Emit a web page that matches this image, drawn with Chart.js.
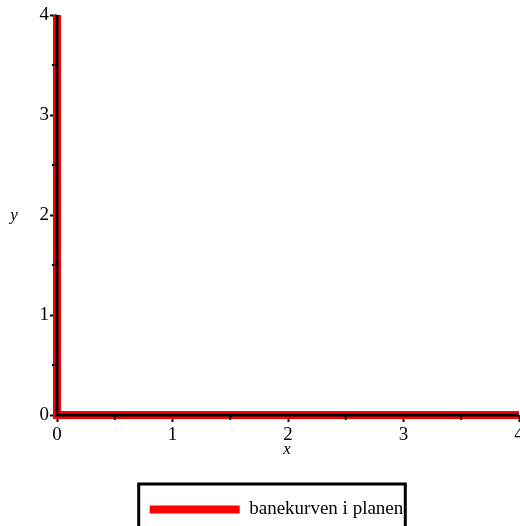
<!DOCTYPE html>
<html>
<head>
<meta charset="utf-8">
<script src="https://cdn.jsdelivr.net/npm/chart.js@4"></script>
<style>
html, body { margin: 0; padding: 0; background: #fff; }
</style>
</head>
<body>
<canvas id="plot" width="520" height="526"></canvas>
<script>
"use strict";

// banekurven: (0,4) -> (0,0) -> (4,0)
const xValues = [0, 0, 4];
const yValues = [4, 0, 0];
const minorTicks = [0.5, 1.5, 2.5, 3.5];
const seriesLabel = "banekurven i planen";
const xTitle = "x";
const yTitle = "y";

const serif = "'Liberation Serif', 'Times New Roman', serif";

/**
 * plugin som ritar axlar, små ticks, axeltitlar och ram runt legenden
 */
const extras = {
    id: 'extras',
    afterLayout(chart) {
        // flytta legenden lite åt höger och nedåt som i originalet
        chart.legend.left += 17;
        chart.legend.right += 17;
        chart.legend.top += 3;
        chart.legend.bottom += 3;
    },
    afterDraw(chart) {
        const ctx = chart.ctx;
        const xs = chart.scales.x;
        const ys = chart.scales.y;
        const x0 = xs.getPixelForValue(0);
        const y0 = ys.getPixelForValue(0);
        ctx.save();
        ctx.strokeStyle = '#000';
        ctx.lineWidth = 3;
        ctx.beginPath();
        ctx.moveTo(x0, ys.getPixelForValue(4));
        ctx.lineTo(x0, y0);
        ctx.lineTo(xs.getPixelForValue(4), y0);
        ctx.stroke();

        ctx.lineWidth = 2;
        minorTicks.forEach(v => {
            const px = xs.getPixelForValue(v);
            ctx.beginPath();
            ctx.moveTo(px, y0);
            ctx.lineTo(px, y0 + 5);
            ctx.stroke();
            const py = ys.getPixelForValue(v);
            ctx.beginPath();
            ctx.moveTo(x0, py);
            ctx.lineTo(x0 - 5, py);
            ctx.stroke();
        });

        ctx.fillStyle = '#000';
        ctx.font = "italic 17px " + serif;
        ctx.textAlign = 'center';
        ctx.textBaseline = 'middle';
        ctx.fillText(xTitle, xs.getPixelForValue(2) - 1, 450);
        ctx.fillText(yTitle, 14, ys.getPixelForValue(2) + 1);

        const lg = chart.legend;
        const hb = lg.legendHitBoxes[0];
        ctx.lineWidth = 3;
        ctx.strokeRect(hb.left - 11, 484, hb.width + 13, 60);
        ctx.restore();
    }
};

const tickFont = { family: serif, size: 19 };

new Chart(document.getElementById('plot'), {
    type: 'scatter',
    data: {
        datasets: [{
            label: seriesLabel,
            data: xValues.map((x, i) => ({ x: x, y: yValues[i] })),
            showLine: true,
            borderColor: '#ff0000',
            backgroundColor: '#ff0000',
            borderWidth: 8,
            pointRadius: 0,
            clip: false
        }]
    },
    options: {
        responsive: false,
        animation: false,
        layout: {
            padding: { top: 15, right: 1, left: 0, bottom: 0 }
        },
        plugins: {
            tooltip: { enabled: false },
            legend: {
                position: 'bottom',
                labels: {
                    boxWidth: 90,
                    boxHeight: 8,
                    padding: 10,
                    color: '#000',
                    font: { family: serif, size: 19 },
                    generateLabels: () => [{
                        text: seriesLabel,
                        fillStyle: '#ff0000',
                        strokeStyle: '#ff0000',
                        lineWidth: 0,
                        fontColor: '#000',
                        datasetIndex: 0
                    }]
                }
            }
        },
        scales: {
            x: {
                type: 'linear',
                min: 0,
                max: 4,
                ticks: { stepSize: 1, color: '#000', font: tickFont, padding: 2, maxRotation: 0 },
                grid: { drawOnChartArea: false, tickLength: 7, tickWidth: 2, tickColor: '#000' },
                border: { display: false },
                afterFit: s => { s.height = 72; s.paddingLeft = 0; s.paddingRight = 0; }
            },
            y: {
                type: 'linear',
                min: 0,
                max: 4,
                ticks: { stepSize: 1, color: '#000', font: tickFont, padding: 1 },
                grid: { drawOnChartArea: false, tickLength: 7, tickWidth: 2, tickColor: '#000' },
                border: { display: false },
                afterFit: s => { s.width = 57; s.paddingTop = 0; s.paddingBottom = 0; }
            }
        }
    },
    plugins: [extras]
});
</script>
</body>
</html>
